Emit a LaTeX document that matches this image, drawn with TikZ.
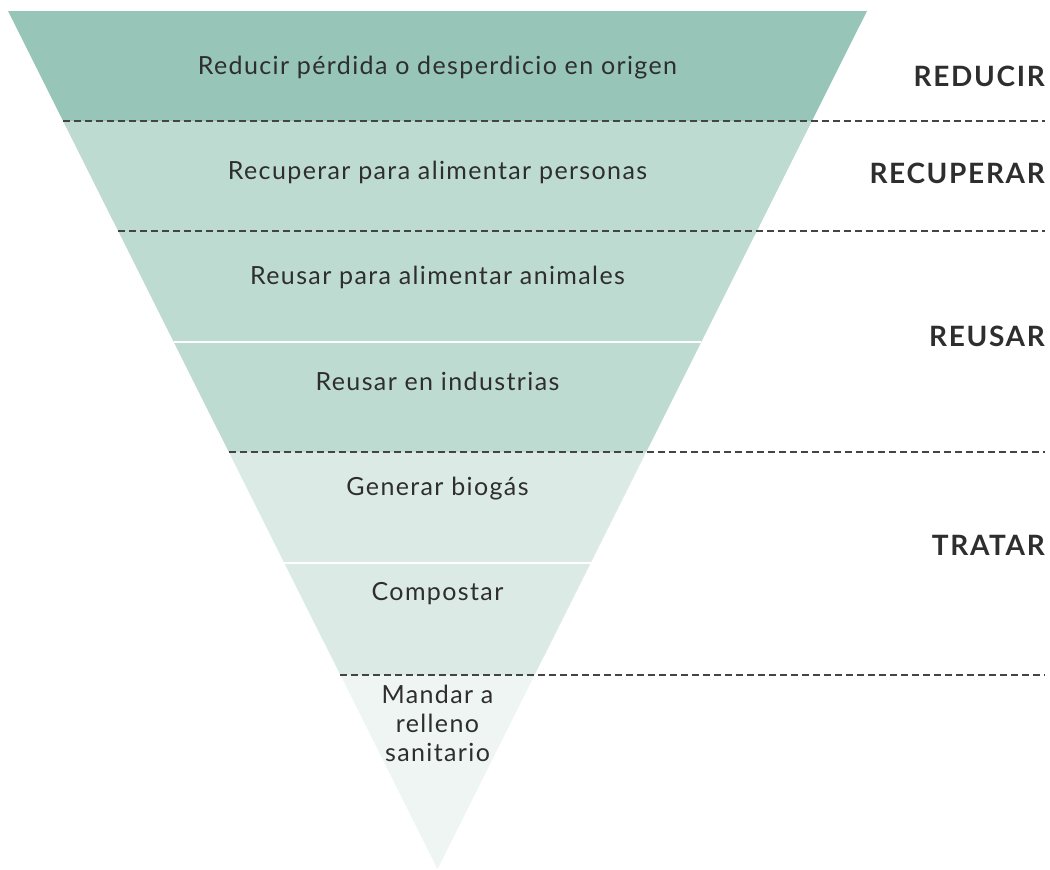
\documentclass[tikz,border=0pt]{standalone}
\usepackage{fontspec}
\setmainfont{Lato}[LetterSpace=5.5]
\newfontfamily\tagfont{Lato}[LetterSpace=6]
\usetikzlibrary{calc}
\definecolor{bandA}{HTML}{97C5B8}
\definecolor{bandB}{HTML}{BEDBD2}
\definecolor{bandC}{HTML}{DBEAE5}
\definecolor{bandD}{HTML}{EEF5F3}
\definecolor{txt}{HTML}{2E2E2E}
\definecolor{dashc}{HTML}{444444}
\tikzset{
  level/.style={font=\fontsize{25}{29}\selectfont, text=txt, align=center, inner sep=0pt},
  tag/.style={font=\tagfont\fontsize{28}{30}\selectfont\bfseries, text=txt, anchor=east, inner sep=0pt},
  sep/.style={draw=dashc, line width=1.4pt, dash pattern=on 7pt off 4pt},
  gapline/.style={draw=white, line width=1.5pt}
}
\begin{document}
\begin{tikzpicture}[x=1pt,y=-1pt]
\useasboundingbox (0,0) rectangle (1050,870);
% band corners
\coordinate (TL) at (8,11);
\coordinate (TR) at (867,11);
\coordinate (A) at (437.5,869);
\foreach \n/\yy in {1/121,2/231,3/342,4/452,5/563,6/675}{
  \pgfmathsetmacro{\lx}{8+0.5006*(\yy-11)}
  \pgfmathsetmacro{\rx}{867-0.5006*(\yy-11)}
  \coordinate (L\n) at (\lx,\yy);
  \coordinate (R\n) at (\rx,\yy);
}
\fill[bandA] (TL) -- (TR) -- (R1) -- (L1) -- cycle;
\fill[bandB] (L1) -- (R1) -- (R4) -- (L4) -- cycle;
\fill[bandC] (L4) -- (R4) -- (R6) -- (L6) -- cycle;
\fill[bandD] (L6) -- (R6) -- (A) -- cycle;
% thin white gaps
\draw[gapline] (L3) -- (R3);
\draw[gapline] (L5) -- (R5);
% dashed separators
\coordinate (E1) at (1045,121);
\coordinate (E2) at (1045,231);
\coordinate (E4) at (1045,452);
\coordinate (E6) at (1045,675);
\draw[sep] (L1) -- (E1);
\draw[sep] (L2) -- (E2);
\draw[sep] (L4) -- (E4);
\draw[sep] (L6) -- (E6);
% level texts
\node[level] (t1) at (437.5,68) {Reducir pérdida o desperdicio en origen};
\node[level] (t2) at (437.5,172) {Recuperar para alimentar personas};
\node[level] (t3) at (437.5,277) {Reusar para alimentar animales};
\node[level] (t4) at (437.5,381) {Reusar en industrias};
\node[level] (t5) at (437.5,489) {Generar biogás};
\node[level] (t6) at (437.5,594) {Compostar};
\node[level, font=\fontsize{25}{29}\selectfont] (t7) at (437.5,723) {Mandar a\\relleno\\sanitario};
% category tags
\node[tag] (g1) at (1045,76) {REDUCIR};
\node[tag] (g2) at (1045,173) {RECUPERAR};
\node[tag] (g3) at (1045,336) {REUSAR};
\node[tag] (g4) at (1045,545) {TRATAR};
\end{tikzpicture}
\end{document}
